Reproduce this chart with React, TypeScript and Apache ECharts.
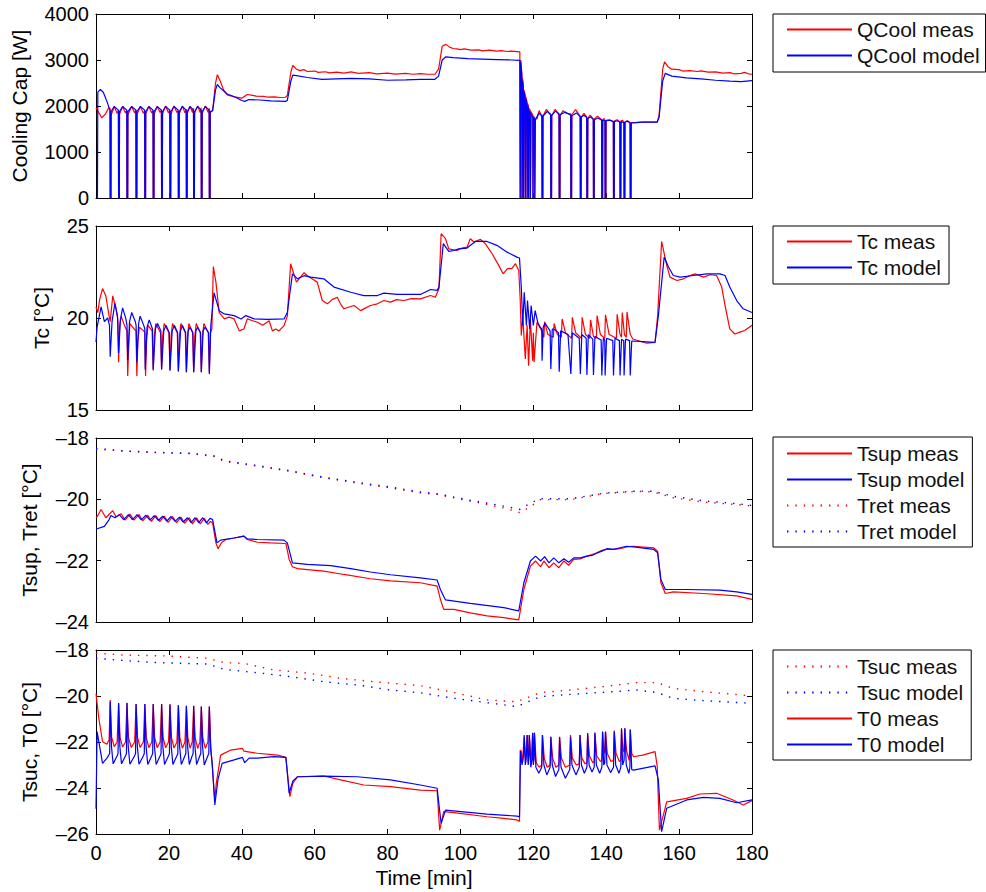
import React, { useEffect, useRef } from "react";
import * as echarts from "echarts";

// ---------- axes / ticks ----------
const xTicks = [0, 20, 40, 60, 80, 100, 120, 140, 160, 180];
const yTicksQ = [0, 1000, 2000, 3000, 4000];
const yTicksTc = [15, 20, 25];
const yTicksTsup = [-24, -22, -20, -18];
const yTicksTsuc = [-26, -24, -22, -20, -18];
const yNames = ["Cooling Cap [W]", "Tc [\u00b0C]", "Tsup, Tret [\u00b0C]", "Tsuc, T0 [\u00b0C]"];
const xName = "Time [min]";

// ---------- subplot 1: cooling capacity [W] ----------
const qcoolMeas = [
  [0,1960],[0.8,1850],[1.6,1740],[2.6,1830],[3.5,1960],[3.85,1950],[3.9,0],[4.1,0],[4.15,1800],
  [5.0,1990],[5.8,1840],[6.15,1900],[6.2,0],[6.4,0],[6.45,1820],
  [7.3,1990],[8.1,1850],[8.45,1900],[8.5,0],[8.7,0],[8.75,1810],
  [9.8,1990],[10.6,1850],[10.95,1920],[11.0,0],[11.2,0],[11.25,1820],
  [12.2,1990],[13.0,1840],[13.35,1900],[13.4,0],[13.6,0],[13.65,1830],
  [14.5,1990],[15.3,1850],[15.65,1900],[15.7,0],[15.9,0],[15.95,1820],
  [16.8,1990],[17.6,1860],[17.95,1920],[18.0,0],[18.2,0],[18.25,1830],
  [19.1,2000],[19.9,1850],[20.25,1920],[20.3,0],[20.5,0],[20.55,1820],
  [21.4,2000],[22.2,1860],[22.55,1900],[22.6,0],[22.8,0],[22.85,1830],
  [23.7,2000],[24.4,1850],[24.75,1930],[24.8,0],[25.0,0],[25.05,1840],
  [25.8,1990],[26.5,1860],[26.75,1950],[26.8,0],[27.0,0],[27.05,1840],
  [27.9,2000],[28.6,1860],[28.85,1960],[28.9,0],[29.1,0],[29.15,1840],
  [30.0,2000],[30.8,1860],[31.05,1950],[31.1,0],[31.3,0],[31.35,1860],
  [32.0,1900],[32.8,2500],[33.3,2680],[34.0,2560],[35.0,2350],[36.0,2240],[38.0,2200],[40.0,2170],
  [41.5,2250],[43,2230],[44,2215],[46,2210],[47,2195],[49,2200],[50.5,2185],[52,2190],[52.5,2230],
  [53.5,2750],[54.0,2880],[55,2800],[56,2770],[57,2790],[58,2750],[60,2760],[61,2730],[63,2745],
  [64,2720],[66,2735],[68,2715],[70,2740],[72,2710],[75,2725],[77,2700],[80,2715],[82,2695],[85,2710],
  [87,2690],[89,2705],[91,2690],[93,2690],
  [94,2800],[95,3300],[96,3340],[97,3280],[98,3250],[99,3240],[100,3225],[101,3240],[103,3215],
  [105,3220],[106,3200],[108,3215],[110,3195],[111,3205],[113,3185],[114,3195],[116.3,3175],
  [116.4,0],[116.5,0],[116.55,3000],[116.85,2700],[116.9,0],[117.0,0],[117.05,2600],[117.25,2450],
  [117.3,0],[117.4,0],[117.45,2350],[117.75,2250],[117.8,0],[117.9,0],[117.95,2200],[118.25,2100],
  [118.3,0],[118.4,0],[118.45,2050],[118.65,2000],[118.7,0],[118.8,0],[118.85,1950],[119.15,1900],
  [119.2,0],[119.3,0],[119.35,1880],[119.85,1800],[119.9,0],[120.0,0],[120.05,1780],[120.35,1740],
  [120.4,0],[120.5,0],[120.55,1720],
  [121.0,1720],[121.6,1900],[122.35,1760],[122.4,0],[122.6,0],[122.65,1780],[123.6,1930],[124.75,1800],
  [124.8,0],[125.0,0],[125.05,1790],[126.0,1930],[127.05,1800],[127.1,0],[127.3,0],[127.35,1800],
  [128.2,1900],[129.0,1840],[130.25,1830],[130.3,0],[130.5,0],[130.55,1810],[131.6,1920],[132.85,1780],
  [132.9,0],[133.1,0],[133.15,1760],[133.9,1840],[134.65,1760],[134.7,0],[134.9,0],[134.95,1730],
  [135.6,1800],[136.45,1720],[136.5,0],[136.7,0],[136.75,1720],[137.6,1780],[138.75,1700],[138.8,0],
  [139.0,0],[139.05,1700],[139.4,1730],[139.65,1680],[139.7,0],[139.9,0],[139.95,1690],[140.9,1700],
  [141.95,1660],[142.0,0],[142.2,0],[142.25,1680],[143.0,1700],[143.75,1650],[143.8,0],[144.0,0],
  [144.05,1680],[144.5,1690],[144.85,1640],[144.9,0],[145.1,0],[145.15,1650],[145.8,1680],[146.55,1640],
  [146.6,0],[146.8,0],[146.85,1640],
  [148,1640],[150,1650],[154,1650],[154.5,1800],[155.5,2800],[156,2960],[157,2850],[158,2800],
  [160,2790],[161,2760],[163,2770],[165,2750],[166,2765],[168,2735],[170,2740],[172,2715],[174,2725],
  [175,2700],[177,2710],[178,2730],[179,2700],[180,2690]
];
const qcoolModel = [
  [0,0],[0.4,0],[0.5,2300],[1.2,2360],[2.0,2300],[3.0,2100],[3.85,1900],[3.9,0],[4.1,0],[4.15,1880],
  [5.0,1990],[6.15,1910],[6.2,0],[6.4,0],[6.45,1880],
  [7.3,1990],[8.45,1910],[8.5,0],[8.7,0],[8.75,1880],
  [9.8,1990],[10.95,1910],[11.0,0],[11.2,0],[11.25,1880],
  [12.2,1990],[13.35,1910],[13.4,0],[13.6,0],[13.65,1880],
  [14.5,1990],[15.65,1910],[15.7,0],[15.9,0],[15.95,1880],
  [16.8,1990],[17.95,1910],[18.0,0],[18.2,0],[18.25,1880],
  [19.1,1990],[20.25,1910],[20.3,0],[20.5,0],[20.55,1880],
  [21.4,1990],[22.55,1910],[22.6,0],[22.8,0],[22.85,1880],
  [23.7,1990],[24.75,1910],[24.8,0],[25.0,0],[25.05,1880],
  [25.8,1990],[26.75,1910],[26.8,0],[27.0,0],[27.05,1880],
  [27.9,1990],[28.85,1910],[28.9,0],[29.1,0],[29.15,1880],
  [30.0,1990],[31.05,1910],[31.1,0],[31.3,0],[31.35,1880],
  [32.0,1900],[32.8,2350],[33.3,2470],[34,2400],[35,2330],[36,2260],[38,2200],[40,2120],[40.8,2100],
  [42,2140],[45,2130],[48,2110],[52,2100],[52.5,2120],[53.5,2550],[54,2670],[55,2660],[58,2620],
  [62,2580],[66,2590],[70,2600],[75,2590],[80,2560],[85,2570],[89,2580],[93,2580],[94,2650],[95,3000],
  [96,3070],[98,3050],[102,3030],[106,3020],[110,3010],[114,3000],[116.3,2990],
  [116.4,0],[116.5,0],[116.55,2950],[116.85,2650],[116.9,0],[117.0,0],[117.05,2550],[117.25,2400],
  [117.3,0],[117.4,0],[117.45,2300],[117.75,2200],[117.8,0],[117.9,0],[117.95,2150],[118.25,2050],
  [118.3,0],[118.4,0],[118.45,2000],[118.65,1950],[118.7,0],[118.8,0],[118.85,1900],[119.15,1850],
  [119.2,0],[119.3,0],[119.35,1830],[119.85,1760],[119.9,0],[120.0,0],[120.05,1740],[120.35,1720],
  [120.4,0],[120.5,0],[120.55,1700],
  [121.5,1840],[122.35,1800],[122.4,0],[122.6,0],[122.65,1780],[123.8,1880],[124.75,1820],[124.8,0],
  [125.0,0],[125.05,1800],[126.1,1890],[127.05,1830],[127.1,0],[127.3,0],[127.35,1810],[128.8,1870],
  [130.25,1800],[130.3,0],[130.5,0],[130.55,1790],[131.8,1850],[132.85,1770],[132.9,0],[133.1,0],
  [133.15,1760],[133.9,1800],[134.65,1750],[134.7,0],[134.9,0],[134.95,1730],[135.7,1760],[136.45,1710],
  [136.5,0],[136.7,0],[136.75,1700],[137.7,1740],[138.75,1690],[138.8,0],[139.0,0],[139.05,1690],
  [139.65,1680],[139.7,0],[139.9,0],[139.95,1680],[141.0,1690],[141.95,1660],[142.0,0],[142.2,0],
  [142.25,1660],[143.0,1680],[143.75,1650],[143.8,0],[144.0,0],[144.05,1660],[144.85,1640],[144.9,0],
  [145.1,0],[145.15,1650],[145.8,1670],[146.55,1630],[146.6,0],[146.8,0],[146.85,1630],
  [148,1640],[150,1650],[154,1650],[154.5,1750],[155.5,2550],[156.2,2710],[158,2650],[162,2610],
  [166,2590],[170,2560],[174,2540],[177,2530],[180,2550]
];

// ---------- subplot 2: Tc [°C] ----------
const tcMeas = [
  [0,20.6],[0.5,20.3],[1.0,21.0],[1.8,21.6],[2.7,21.2],[3.6,20.1],[3.9,19.8],[4.6,21.2],[5.5,20.5],
  [6.0,19.9],[6.2,17.6],[6.5,19.6],[6.9,20.1],[7.8,19.6],[8.5,19.3],[8.7,16.85],[9.0,18.6],[9.3,19.7],
  [10.5,19.4],[11.0,19.3],[11.2,16.85],[11.5,18.8],[11.9,19.5],[13.1,19.3],[13.4,19.2],[13.6,16.85],
  [13.9,18.9],[14.3,19.6],[15.4,19.3],[15.7,17.15],[16.0,19.0],[16.4,19.7],[17.7,19.2],[18.0,17.2],
  [18.3,19.0],[18.7,19.7],[20.0,19.2],[20.3,17.15],[20.6,19.0],[21.0,19.7],[22.3,19.2],[22.6,17.1],
  [22.9,19.0],[23.3,19.7],[24.5,19.2],[24.8,17.05],[25.1,19.0],[25.5,19.7],[26.5,19.2],[26.8,17.05],
  [27.1,19.0],[27.5,19.7],[28.6,19.2],[28.9,17.05],[29.2,19.0],[29.6,19.7],[30.8,19.2],[31.1,17.05],
  [31.4,19.2],[31.8,19.4],[32.2,22.8],[32.9,21.95],[33.8,20.3],[35.2,19.95],[36.5,20.05],[37.9,19.95],
  [39.3,19.3],[40.6,19.4],[41.5,19.95],[43.0,19.85],[44.3,19.77],[45.7,19.6],[47.5,19.85],[48.4,19.3],
  [49.3,19.4],[50.2,19.3],[51.6,19.59],[52.5,20.1],[53.4,22.95],[55.0,21.95],[56.0,22.2],[57.1,22.46],
  [58.0,22.3],[59.5,22.1],[60.7,21.95],[62.1,20.95],[63.5,20.77],[64.8,21.0],[66.2,21.13],[67.0,20.8],
  [68.0,20.5],[69.5,20.6],[70.8,20.68],[72.6,20.4],[74.0,20.55],[75.3,20.68],[77.2,20.77],[79.0,20.95],
  [80.8,20.86],[82.5,21.0],[84.5,20.95],[86.5,21.05],[89,21.04],[91.8,21.22],[93.1,21.13],[94.1,21.59],
  [94.7,24.58],[95.9,24.31],[96.8,23.76],[99.1,23.67],[100.4,23.8],[101.8,23.85],[102.7,24.31],
  [103.7,24.13],[105.5,24.27],[106.8,24.04],[108.7,23.49],[110.5,22.86],[111.7,22.4],[112.9,22.68],
  [114.1,22.68],[115.1,22.95],[116.0,22.58],
  [116.4,21.0],[116.7,19.05],[117.1,20.1],[117.8,17.77],[118.3,19.6],[118.7,17.41],[119.2,19.95],
  [119.8,17.68],[120.0,19.2],[120.2,17.6],[121.0,19.77],[122.3,19.3],
  [122.9,18.95],[123.1,19.8],[124.0,19.1],[125.5,18.95],[125.7,19.7],[126.6,19.1],[127.7,18.95],
  [127.9,19.95],[128.8,19.2],[130.5,18.9],[130.7,20.04],[131.6,19.2],[133.2,18.9],[133.4,20.04],
  [134.3,19.1],[135.5,18.9],[135.7,19.9],[136.5,19.0],[137.3,18.9],[137.5,20.13],[138.4,19.1],
  [139.6,18.9],[139.8,20.17],[140.8,19.1],[142.8,18.9],[143.0,20.2],[143.8,19.1],[144.2,18.95],
  [144.4,20.3],[145.0,19.1],[145.5,18.95],[145.7,20.32],[146.6,19.1],[147.3,18.86],[151.1,18.63],
  [153.4,18.68],[154.1,20.1],[155.2,24.16],[156.6,22.86],[157.5,22.22],[159.4,22.04],[161.2,22.13],
  [163.0,22.31],[164.4,22.4],[166.7,22.22],[168.5,22.35],[170.3,22.31],[171.7,21.68],[172.6,20.68],
  [173.9,19.41],[175.3,19.13],[176.7,19.23],[178.0,19.32],[180,19.6]
];
const tcModel = [
  [0,18.7],[0.3,19.5],[1.4,20.6],[2.3,19.8],[3.2,20.0],[3.7,19.6],[3.9,17.9],[4.4,19.8],[5.2,20.8],
  [5.9,20.1],[6.2,18.1],[6.7,19.9],[7.3,20.55],[8.2,19.95],[8.5,19.6],[8.7,17.7],[9.2,19.8],[9.8,20.3],
  [10.8,19.8],[11.0,19.6],[11.2,17.6],[11.7,19.7],[12.1,20.1],[13.1,19.6],[13.4,19.4],[13.5,17.2],
  [14.0,19.5],[14.6,19.9],[15.5,19.4],[15.7,17.2],[16.3,19.4],[16.9,19.7],[17.8,19.3],[18.0,17.2],
  [18.6,19.3],[19.2,19.6],[20.1,19.2],[20.3,17.15],[20.9,19.3],[21.5,19.6],[22.4,19.2],[22.6,17.1],
  [23.2,19.3],[23.7,19.6],[24.6,19.2],[24.8,17.05],[25.3,19.3],[25.8,19.5],[26.6,19.2],[26.8,17.05],
  [27.4,19.3],[27.9,19.5],[28.7,19.2],[28.9,17.05],[29.4,19.3],[29.9,19.5],[30.9,19.2],[31.1,16.96],
  [31.5,19.6],[32.4,21.37],[33.8,20.4],[35.2,20.22],[37.9,20.13],[39.8,19.95],[41.1,20.13],[43.4,19.95],
  [47.0,19.92],[51.6,19.95],[52.5,20.3],[53.9,22.4],[55.3,22.13],[57.1,22.3],[58.9,22.22],[62.5,22.13],
  [65.3,21.68],[69.9,21.4],[73.5,21.22],[77.2,21.22],[79.0,21.35],[82.6,21.28],[89,21.28],[91.8,21.55],
  [93.6,21.5],[94.1,21.68],[95.3,24.04],[96.8,23.62],[98.2,23.67],[99.5,23.76],[101.8,23.8],[104.1,24.16],
  [107.3,24.16],[110.0,23.95],[112.8,23.58],[115.5,23.31],[116.2,23.26],
  [116.7,21.68],[117.1,19.6],[117.5,21.4],[118.1,19.6],[118.4,20.95],[119.0,19.4],[119.4,20.68],
  [120.0,19.6],[120.5,20.4],[121.2,19.77],[121.9,19.5],[122.3,19.4],[122.4,17.68],[122.7,19.5],
  [123.2,19.73],[124.6,19.3],[124.8,17.23],[125.2,19.4],[125.6,19.4],[126.9,19.2],[127.1,17.08],
  [127.5,19.3],[129.5,19.1],[130.3,16.96],[130.7,19.2],[132.6,18.9],[132.9,16.96],[133.3,19.1],
  [134.5,18.9],[134.7,16.9],[135.1,19.1],[136.3,18.85],[136.5,16.9],[136.9,19.0],[138.6,18.8],
  [138.8,16.87],[139.2,18.9],[139.6,18.8],[139.7,16.87],[140.1,18.9],[141.8,18.77],[142.0,16.87],
  [142.4,18.9],[143.6,18.77],[143.8,16.87],[144.2,18.85],[144.8,18.77],[144.9,16.87],[145.3,18.85],
  [146.4,18.77],[146.6,16.87],[147.0,18.75],[150,18.72],[153.4,18.68],[154.3,20.1],[155.9,23.31],
  [157.1,22.77],[158.4,22.31],[160.3,22.22],[163.9,22.31],[167.6,22.4],[171.2,22.4],[172.6,22.31],
  [173.9,21.68],[175.8,20.95],[177.6,20.5],[180,20.3]
];

// ---------- subplot 3: Tsup / Tret [°C] ----------
const tsupMeas = [
  [0,-20.6],[0.3,-20.57],[1.4,-20.33],[2.7,-20.6],[4.6,-20.37],[5.5,-20.57],[6.9,-20.47],[8.0,-20.68],
  [9.3,-20.48],[10.4,-20.68],[11.8,-20.5],[12.8,-20.7],[14.2,-20.52],[15.2,-20.72],[16.4,-20.53],
  [17.5,-20.73],[18.7,-20.55],[19.8,-20.75],[21.0,-20.56],[22.1,-20.76],[23.3,-20.58],[24.3,-20.78],
  [25.6,-20.6],[26.5,-20.8],[27.6,-20.6],[28.6,-20.8],[29.7,-20.62],[30.7,-20.82],[31.4,-20.72],
  [32.0,-20.77],[32.9,-21.42],[33.5,-21.61],[34.4,-21.42],[35.6,-21.31],[37.9,-21.26],[40.6,-21.2],
  [41.5,-21.31],[44.3,-21.4],[47.9,-21.42],[52.1,-21.44],[53.0,-21.96],[53.9,-22.2],[55.3,-22.26],
  [58.0,-22.29],[62.5,-22.34],[68.0,-22.45],[75.3,-22.59],[80.8,-22.66],[89,-22.72],[93.6,-22.83],
  [94.5,-23.26],[95.4,-23.59],[98.2,-23.59],[102.7,-23.7],[107.3,-23.8],[111.9,-23.86],[116.0,-23.93],
  [117.4,-22.94],[119.2,-22.18],[120.6,-22.01],[122.0,-22.2],[122.9,-22.01],[124.3,-22.23],
  [125.6,-22.07],[127.0,-22.23],[128.4,-22.01],[129.7,-22.15],[131.1,-21.96],[132.9,-21.94],
  [134.7,-21.85],[136.1,-21.8],[137.4,-21.74],[138.8,-21.66],[140.2,-21.63],[142.0,-21.63],
  [143.8,-21.61],[145.6,-21.55],[147.5,-21.53],[153,-21.58],[154.1,-21.69],[155.0,-22.72],
  [156.2,-23.07],[158.4,-23.02],[166.7,-23.07],[175.8,-23.15],[180,-23.26]
];
const tsupModel = [
  [0,-20.96],[0.3,-20.96],[2.3,-20.88],[3.6,-20.66],[4.1,-20.53],[5.2,-20.6],[6.4,-20.5],[7.6,-20.66],
  [8.9,-20.5],[10.0,-20.66],[11.3,-20.5],[12.4,-20.67],[13.7,-20.52],[14.8,-20.68],[16.0,-20.53],
  [17.1,-20.69],[18.3,-20.55],[19.4,-20.71],[20.6,-20.56],[21.7,-20.72],[22.9,-20.58],[23.9,-20.74],
  [25.1,-20.6],[26.1,-20.76],[27.2,-20.6],[28.2,-20.76],[29.3,-20.6],[30.3,-20.77],[31.3,-20.62],
  [32.0,-20.66],[33.2,-21.42],[34.2,-21.33],[37.9,-21.26],[40.6,-21.2],[41.5,-21.29],[44.3,-21.31],
  [51.6,-21.33],[52.5,-21.42],[53.9,-22.07],[58.0,-22.12],[64.4,-22.16],[69.9,-22.26],[75.3,-22.37],
  [80.8,-22.46],[89,-22.56],[93.6,-22.63],[94.5,-22.94],[95.9,-23.28],[102.7,-23.39],[111.9,-23.53],
  [116.0,-23.64],[117.4,-22.72],[119.2,-22.01],[120.6,-21.85],[122.0,-22.01],[123.1,-21.87],
  [124.3,-22.07],[125.6,-21.91],[127.0,-22.07],[128.4,-21.94],[129.7,-22.05],[131.1,-21.91],
  [132.9,-21.91],[134.7,-21.85],[136.1,-21.83],[137.4,-21.76],[138.8,-21.69],[140.2,-21.61],
  [142.0,-21.63],[143.8,-21.58],[145.6,-21.53],[147.5,-21.55],[153,-21.63],[154.1,-21.74],
  [155.0,-22.61],[156.2,-22.94],[162.1,-22.94],[171.2,-22.96],[175.8,-23.02],[180,-23.1]
];
const tretMeas = [
  [0,-18.36],[7.8,-18.43],[16.9,-18.48],[26,-18.51],[32.3,-18.6],[35.2,-18.76],[44.3,-18.92],
  [53.4,-19.09],[62.5,-19.3],[71.7,-19.47],[80.8,-19.63],[89,-19.79],[93.6,-19.84],[102.7,-20.06],
  [111.9,-20.28],[116.4,-20.44],[119.2,-20.23],[122,-20.01],[130.2,-20.01],[139.3,-19.81],
  [148.4,-19.74],[153,-19.76],[158.4,-19.95],[166.7,-20.09],[175.8,-20.17],[180,-20.22]
];
const tretModel = [
  [0,-18.34],[7.8,-18.42],[16.9,-18.47],[26,-18.5],[32.3,-18.58],[35.2,-18.74],[44.3,-18.9],
  [53.4,-19.07],[62.5,-19.28],[71.7,-19.45],[80.8,-19.6],[89,-19.76],[93.6,-19.82],[102.7,-20.03],
  [111.9,-20.22],[116.4,-20.33],[119.2,-20.12],[122,-19.98],[130.2,-19.98],[139.3,-19.8],
  [148.4,-19.73],[153,-19.74],[158.4,-19.9],[166.7,-20.05],[175.8,-20.14],[180,-20.2]
];

// ---------- subplot 4: Tsuc / T0 [°C] ----------
const tsucMeas = [
  [0,-18.14],[7.8,-18.22],[19.6,-18.26],[30.6,-18.36],[35.2,-18.55],[40.6,-18.58],[48.8,-18.87],
  [58.0,-19.0],[67.1,-19.23],[76.3,-19.38],[89,-19.55],[98.2,-19.85],[107.3,-20.17],[115.5,-20.25],
  [121.9,-19.85],[130.2,-19.74],[139.3,-19.59],[148.4,-19.42],[153.9,-19.42],[158.4,-19.67],
  [166.7,-19.81],[180,-20.0]
];
const tsucModel = [
  [0,-18.36],[7.8,-18.46],[16.9,-18.55],[30.6,-18.61],[35.2,-18.84],[44.3,-18.99],[53.4,-19.16],
  [62.5,-19.38],[71.7,-19.52],[80.8,-19.74],[89,-19.86],[98.2,-20.1],[107.3,-20.29],[115.5,-20.46],
  [121.9,-20.03],[130.2,-19.93],[139.3,-19.84],[148.4,-19.74],[153.9,-19.85],[158.4,-20.1],
  [166.7,-20.2],[180,-20.32]
];
const t0Meas = [
  [0,-19.9],[0.8,-21.0],[1.8,-21.99],[3.0,-22.1],[3.6,-21.9],[3.9,-20.17],[4.3,-21.8],[5.0,-22.2],
  [5.8,-22.0],[6.2,-20.32],[6.6,-21.8],[7.3,-22.22],[8.1,-22.0],[8.5,-20.29],[8.9,-21.8],[9.7,-22.24],
  [10.6,-22.0],[11.0,-20.35],[11.4,-21.8],[12.1,-22.24],[13.0,-22.0],[13.4,-20.35],[13.8,-21.8],
  [14.5,-22.25],[15.3,-22.0],[15.7,-20.35],[16.1,-21.8],[16.8,-22.25],[17.6,-22.0],[18.0,-20.35],
  [18.4,-21.8],[19.1,-22.25],[19.9,-22.0],[20.3,-20.35],[20.7,-21.8],[21.4,-22.26],[22.2,-22.0],
  [22.6,-20.39],[23.0,-21.8],[23.7,-22.27],[24.4,-22.0],[24.8,-20.43],[25.2,-21.8],[25.8,-22.27],
  [26.4,-22.0],[26.8,-20.43],[27.2,-21.8],[27.9,-22.28],[28.5,-22.0],[28.9,-20.46],[29.3,-21.8],
  [30.0,-22.28],[30.7,-22.0],[31.1,-20.46],[31.5,-22.2],[32.6,-24.52],[33.0,-23.8],[34.2,-22.57],
  [37.0,-22.35],[40.2,-22.28],[40.6,-22.4],[44.3,-22.49],[49.8,-22.57],[52.1,-22.67],[53.2,-24.38],
  [54.0,-23.8],[55.3,-23.51],[62.5,-23.48],[67.1,-23.65],[73.5,-23.87],[80.8,-23.94],[89,-24.09],
  [93.6,-24.12],[94.3,-25.83],[95.4,-25.03],[98.2,-25.07],[107.3,-25.25],[111.9,-25.32],[115.5,-25.39],
  [116.2,-25.45],[116.4,-22.35],
  [116.7,-22.4],[117.0,-22.9],[117.5,-21.77],[117.9,-22.9],[118.3,-21.7],[118.6,-22.9],[118.9,-21.7],
  [119.4,-22.9],[119.8,-21.62],[120.1,-22.8],[120.3,-21.6],[120.8,-22.9],[121.6,-23.1],[122.3,-23.0],
  [122.5,-21.7],[123.0,-22.7],[123.8,-23.1],[124.6,-23.0],[124.8,-21.77],[125.3,-22.7],[126.2,-23.1],
  [127.0,-23.0],[127.2,-21.77],[127.7,-22.7],[128.8,-23.1],[130.0,-23.0],[130.2,-21.7],[130.7,-22.7],
  [131.8,-23.0],[132.6,-22.95],[132.8,-21.7],[133.3,-22.7],[134.2,-22.95],[134.7,-22.9],[134.9,-21.62],
  [135.4,-22.6],[136.3,-22.9],[136.7,-22.85],[136.9,-21.6],[137.4,-22.6],[138.4,-22.85],[138.8,-22.8],
  [139.0,-21.55],[139.4,-22.5],[139.6,-22.4],[139.8,-21.55],[140.3,-22.5],[141.3,-22.85],[142.0,-22.8],
  [142.2,-21.5],[142.7,-22.5],[143.6,-22.85],[144.0,-22.8],[144.2,-21.45],[144.6,-22.4],[144.9,-22.4],
  [145.1,-21.4],[145.6,-22.4],[146.3,-22.8],[146.6,-21.45],[147.0,-22.5],[147.5,-22.64],[150,-22.57],
  [153.4,-22.42],[154.0,-23.07],[154.6,-25.83],[156.6,-24.6],[162.1,-24.45],[165.7,-24.26],
  [170.3,-24.23],[174.8,-24.52],[177.6,-24.74],[180,-24.55]
];
const t0Model = [
  [0,-24.9],[0.3,-21.55],[1.8,-22.93],[3.0,-22.7],[3.75,-22.5],[3.9,-20.25],[4.25,-22.2],[4.7,-22.95],
  [5.8,-22.6],[6.05,-22.5],[6.2,-20.3],[6.55,-22.2],[7.0,-22.95],[8.1,-22.6],[8.35,-22.5],[8.5,-20.3],
  [8.85,-22.2],[9.3,-22.97],[10.6,-22.6],[10.85,-22.5],[11.0,-20.35],[11.35,-22.2],[11.8,-22.97],
  [13.0,-22.6],[13.25,-22.5],[13.4,-20.35],[13.75,-22.2],[14.2,-22.98],[15.3,-22.6],[15.55,-22.5],
  [15.7,-20.35],[16.05,-22.2],[16.5,-22.98],[17.6,-22.6],[17.85,-22.5],[18.0,-20.35],[18.35,-22.2],
  [18.8,-22.98],[19.9,-22.6],[20.15,-22.5],[20.3,-20.38],[20.65,-22.2],[21.1,-22.98],[22.2,-22.6],
  [22.45,-22.5],[22.6,-20.4],[22.95,-22.2],[23.4,-22.98],[24.4,-22.6],[24.65,-22.5],[24.8,-20.43],
  [25.15,-22.2],[25.6,-22.98],[26.4,-22.6],[26.65,-22.5],[26.8,-20.43],[27.15,-22.2],[27.6,-22.98],
  [28.5,-22.6],[28.75,-22.5],[28.9,-20.46],[29.25,-22.2],[29.7,-23.0],[30.7,-22.6],[30.95,-22.5],
  [31.1,-20.46],[31.45,-22.3],[31.9,-22.95],[32.6,-24.74],[33.5,-23.6],[34.6,-22.93],[37.9,-22.78],
  [40.2,-22.67],[40.8,-22.9],[42.0,-22.7],[44.3,-22.7],[48.8,-22.64],[52.1,-22.67],[53.0,-24.23],
  [54.0,-23.7],[55.3,-23.51],[62.5,-23.48],[71.7,-23.51],[80.8,-23.65],[89,-23.87],[93.6,-24.01],
  [94.7,-25.54],[95.9,-24.96],[107.3,-25.14],[115.5,-25.22],[116.2,-25.25],[116.5,-22.4],
  [116.9,-23.0],[117.3,-22.6],[117.5,-21.7],[117.8,-23.0],[118.1,-22.6],[118.3,-21.7],[118.6,-23.0],
  [118.8,-22.6],[118.9,-21.7],[119.3,-23.1],[119.7,-22.7],[119.8,-21.6],[120.0,-23.0],[120.2,-22.7],
  [120.3,-21.6],[120.7,-23.1],[121.5,-23.36],[122.3,-23.1],[122.5,-21.7],[122.9,-23.0],[123.7,-23.43],
  [124.6,-23.1],[124.8,-21.77],[125.2,-23.0],[126.1,-23.5],[127.0,-23.2],[127.2,-21.8],[127.6,-23.1],
  [128.8,-23.58],[130.0,-23.2],[130.2,-21.77],[130.6,-23.0],[131.7,-23.43],[132.6,-23.1],[132.8,-21.7],
  [133.2,-23.0],[134.0,-23.36],[134.7,-23.1],[134.9,-21.62],[135.3,-23.0],[136.1,-23.3],[136.7,-23.1],
  [136.9,-21.6],[137.3,-23.0],[138.2,-23.36],[138.8,-23.1],[139.0,-21.55],[139.3,-23.0],[139.6,-22.9],
  [139.8,-21.55],[140.2,-23.0],[141.2,-23.33],[142.0,-23.1],[142.2,-21.55],[142.6,-23.0],[143.5,-23.36],
  [144.0,-23.1],[144.2,-21.4],[144.5,-23.0],[144.9,-22.8],[145.1,-21.4],[145.5,-23.0],[146.2,-23.36],
  [146.5,-23.1],[146.6,-21.47],[147.0,-23.2],[147.5,-23.22],[153.4,-23.04],[154.3,-23.65],
  [155.2,-25.9],[156.6,-24.88],[162.1,-24.52],[166.7,-24.41],[171.2,-24.45],[175.8,-24.64],[180,-24.52]
];

const FONT = "'Liberation Sans', Arial, Helvetica, sans-serif";
const RED = "#ff0000";
const BLUE = "#0000ff";

const grids = [
  { left: 96, top: 14, width: 656, height: 184 },
  { left: 96, top: 226, width: 656, height: 184 },
  { left: 96, top: 438, width: 656, height: 184 },
  { left: 96, top: 650, width: 656, height: 184 },
];
const yTickSets = [yTicksQ, yTicksTc, yTicksTsup, yTicksTsuc];
const yNameGaps = [66, 44, 56, 56];

const minus = (v: number) => String(v).replace("-", "\u2013");

function buildOption() {
  const xAxis: any[] = [];
  const yAxis: any[] = [];
  grids.forEach((_, i) => {
    const base = {
      type: "value",
      gridIndex: i,
      min: xTicks[0],
      max: xTicks[xTicks.length - 1],
      interval: xTicks[1] - xTicks[0],
      splitLine: { show: false },
      axisLine: { show: true, onZero: false, lineStyle: { color: "#000", width: 1 } },
      axisTick: { show: true, inside: true, length: 5, lineStyle: { color: "#000" } },
    };
    xAxis.push({
      ...base,
      position: "bottom",
      axisLabel: { show: i === 3, color: "#000", fontSize: 20, fontFamily: FONT, margin: 9 },
      name: i === 3 ? xName : "",
      nameLocation: "middle",
      nameGap: 33,
      nameTextStyle: { color: "#000", fontSize: 21, fontFamily: FONT },
    });
    xAxis.push({ ...base, position: "top", axisLabel: { show: false } });
    const ticks = yTickSets[i];
    const ybase = {
      type: "value",
      gridIndex: i,
      min: ticks[0],
      max: ticks[ticks.length - 1],
      interval: ticks[1] - ticks[0],
      splitLine: { show: false },
      axisLine: { show: true, onZero: false, lineStyle: { color: "#000", width: 1 } },
      axisTick: { show: true, inside: true, length: 5, lineStyle: { color: "#000" } },
    };
    yAxis.push({
      ...ybase,
      position: "left",
      axisLabel: { show: true, color: "#000", fontSize: 20, fontFamily: FONT, margin: 7, formatter: minus },
      name: yNames[i],
      nameLocation: "middle",
      nameGap: yNameGaps[i],
      nameTextStyle: { color: "#000", fontSize: 21, fontFamily: FONT },
    });
    yAxis.push({ ...ybase, position: "right", axisLabel: { show: false } });
  });

  const line = (name: string, data: number[][], color: string, g: number, dotted = false) => ({
    type: "line",
    name,
    data,
    xAxisIndex: 2 * g,
    yAxisIndex: 2 * g,
    symbol: "none",
    showSymbol: false,
    clip: true,
    lineStyle: { color, width: dotted ? 1.4 : 1.2, type: dotted ? [1.4, 7] : "solid" },
    itemStyle: { color },
    emphasis: { disabled: true },
  });

  const series = [
    line("QCool meas", qcoolMeas, RED, 0),
    line("QCool model", qcoolModel, BLUE, 0),
    line("Tc meas", tcMeas, RED, 1),
    line("Tc model", tcModel, BLUE, 1),
    line("Tsup meas", tsupMeas, RED, 2),
    line("Tsup model", tsupModel, BLUE, 2),
    line("Tret meas", tretMeas, RED, 2, true),
    line("Tret model", tretModel, BLUE, 2, true),
    line("Tsuc meas", tsucMeas, RED, 3, true),
    line("Tsuc model", tsucModel, BLUE, 3, true),
    line("T0 meas", t0Meas, RED, 3),
    line("T0 model", t0Model, BLUE, 3),
  ];

  const legendBase = {
    orient: "vertical",
    left: 773,
    borderColor: "#000",
    borderWidth: 1,
    backgroundColor: "#fff",
    itemWidth: 65,
    itemHeight: 14,
    itemGap: 5,
    selectedMode: false,
    itemStyle: { opacity: 0 },
    textStyle: { color: "#111", fontSize: 21, fontFamily: FONT },
  };
  const legend = [
    { ...legendBase, top: 14, padding: [5, 6, 6, 13], data: ["QCool meas", "QCool model"] },
    { ...legendBase, top: 226, padding: [5, 8, 6, 13], data: ["Tc meas", "Tc model"] },
    { ...legendBase, top: 437, padding: [6, 8, 5, 13], data: ["Tsup meas", "Tsup model", "Tret meas", "Tret model"] },
    { ...legendBase, top: 650, padding: [6, 8, 5, 13], data: ["Tsuc meas", "Tsuc model", "T0 meas", "T0 model"] },
  ];

  return {
    animation: false,
    backgroundColor: "#fff",
    textStyle: { fontFamily: FONT },
    grid: grids,
    xAxis,
    yAxis,
    legend,
    series,
  };
}

export default function App() {
  const ref = useRef<HTMLDivElement>(null);
  useEffect(() => {
    document.body.style.margin = "0";
    if (!ref.current) return;
    const chart = echarts.init(ref.current, undefined, { renderer: "svg" });
    chart.setOption(buildOption() as any);
    return () => chart.dispose();
  }, []);
  return <div ref={ref} style={{ width: 986, height: 892, background: "#fff" }} />;
}
